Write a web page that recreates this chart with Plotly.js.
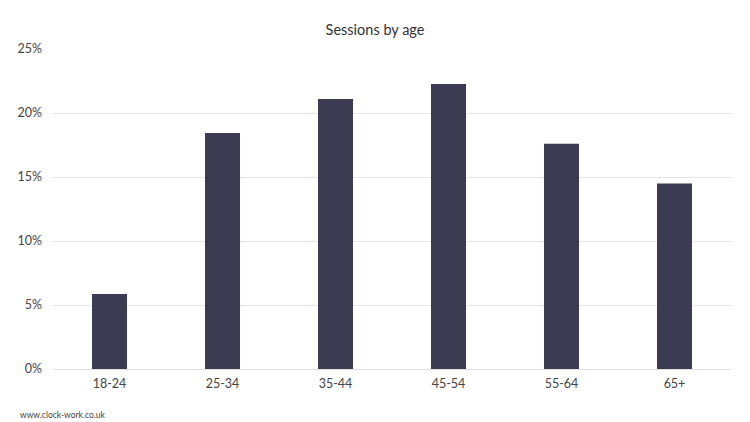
<!DOCTYPE html>
<html>
<head>
<meta charset="utf-8">
<script src="https://cdn.plot.ly/plotly-3.0.1.min.js"></script>
<style>html,body{margin:0;padding:0;background:#fff;}#chart{width:750px;height:422px;}</style>
</head>
<body>
<div id="chart"></div>
<script>
const categories = ["18-24", "25-34", "35-44", "45-54", "55-64", "65+"];
const sessionShare = [0.0586, 0.1844, 0.211, 0.2227, 0.176, 0.145];
const tickValues = [0, 0.05, 0.10, 0.15, 0.20, 0.25];
const tickLabels = ["0%", "5%", "10%", "15%", "20%", "25%"];

const fontFam = "Lato, 'Open Sans', sans-serif";
Plotly.newPlot("chart", [{
  type: "bar",
  x: categories,
  y: sessionShare,
  marker: {color: "#3b3c51"},
  hoverinfo: "x+y"
}], {
  width: 750, height: 422,
  margin: {l: 53, r: 19, t: 49, b: 53},
  paper_bgcolor: "#fff", plot_bgcolor: "#fff",
  bargap: 0.69,
  font: {family: fontFam, color: "#444", size: 12},
  title: {text: "Sessions by age", x: 0.5, xanchor: "center", y: 0.93, yanchor: "middle", font: {size: 14.5, color: "#333", family: fontFam}},
  xaxis: {showgrid: false, zeroline: false, showline: false, ticks: "", ticklabelstandoff: 5, tickfont: {size: 12.5, color: "#444"}, fixedrange: true},
  yaxis: {range: [0, 0.25], tickvals: tickValues, ticktext: tickLabels, showgrid: true, gridcolor: "#e6e6e6", gridwidth: 1, zeroline: true, zerolinecolor: "#e0e0e0", zerolinewidth: 1, ticks: "", ticklabelstandoff: 10, tickfont: {size: 12.5, color: "#444"}, fixedrange: true},
  annotations: [{text: "www.clock-work.co.uk", xref: "paper", yref: "paper", x: -0.052, y: -0.145, xanchor: "left", yanchor: "middle", showarrow: false, font: {size: 8.5, color: "#444", family: fontFam}}],
  showlegend: false
}, {displayModeBar: false, staticPlot: true});
</script>
</body>
</html>
